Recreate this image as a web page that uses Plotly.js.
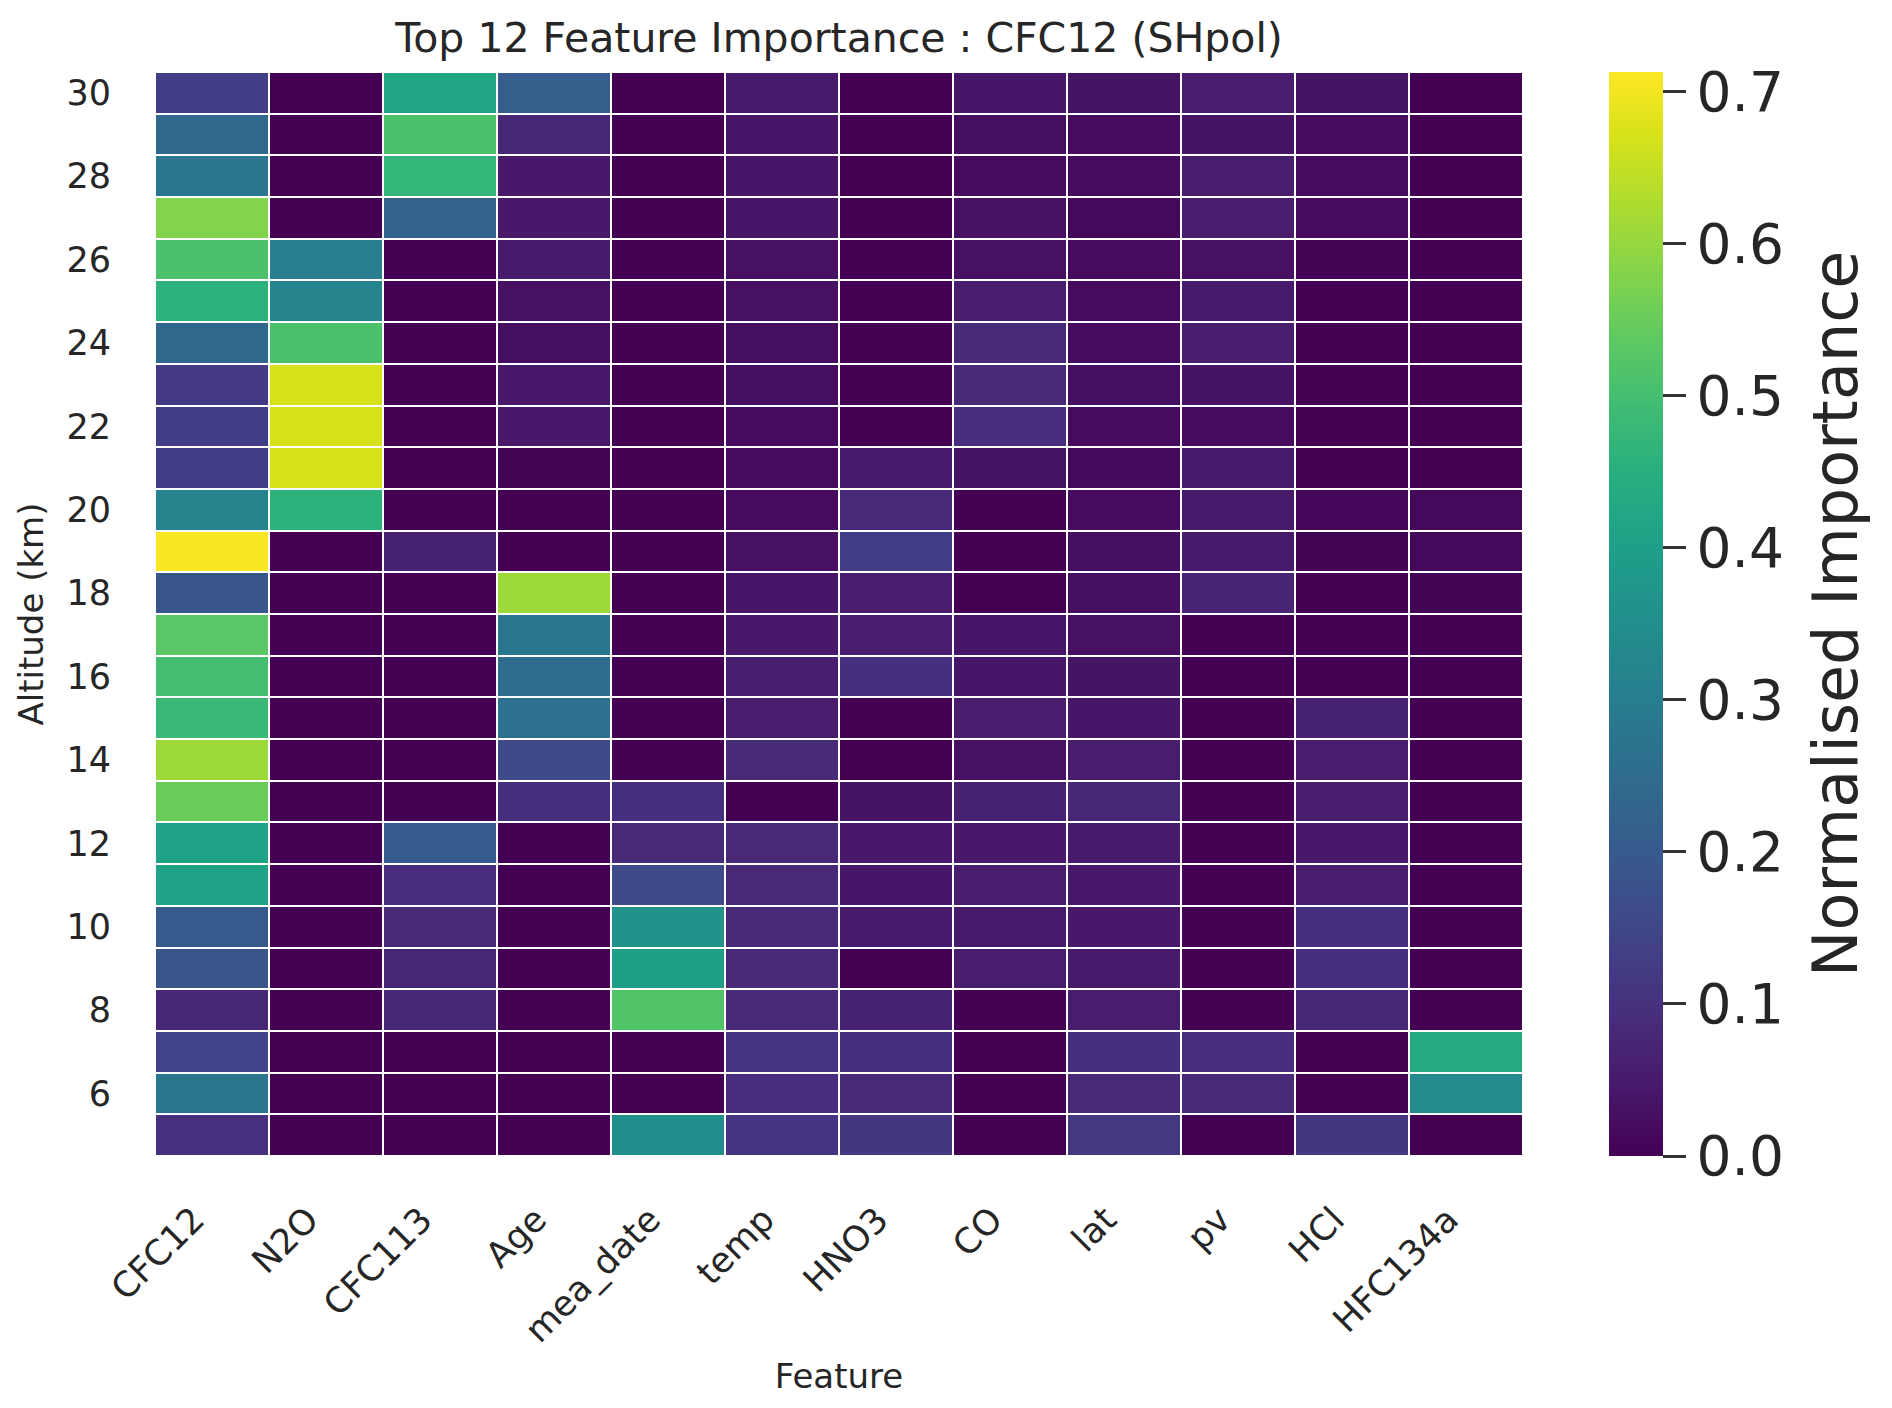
<!DOCTYPE html>
<html>
<head>
<meta charset="utf-8">
<script src="https://cdn.plot.ly/plotly-3.0.1.min.js"></script>
<style>
  html, body { margin: 0; padding: 0; background: #fff; }
  #chart { width: 1892px; height: 1408px; }
</style>
</head>
<body>
<div id="chart"></div>
<script>
// altitude rows, top to bottom (km)
var altitudes = [30, 29, 28, 27, 26, 25, 24, 23, 22, 21, 20, 19, 18, 17, 16, 15, 14, 13, 12, 11, 10, 9, 8, 7, 6, 5];
var features = ['CFC12', 'N2O', 'CFC113', 'Age', 'mea_date', 'temp', 'HNO3', 'CO', 'lat', 'pv', 'HCl', 'HFC134a'];

// normalised importance per feature, same order as altitudes
var cfc12   = [0.13, 0.24, 0.28, 0.58, 0.51, 0.46, 0.24, 0.12, 0.13, 0.13, 0.32, 0.71, 0.19, 0.53, 0.50, 0.48, 0.61, 0.55, 0.41, 0.41, 0.20, 0.19, 0.075, 0.14, 0.28, 0.10];
var n2o     = [0, 0, 0, 0, 0.30, 0.32, 0.51, 0.67, 0.67, 0.67, 0.46, 0, 0, 0, 0, 0, 0, 0, 0, 0, 0, 0, 0, 0, 0, 0];
var cfc113  = [0.42, 0.51, 0.47, 0.22, 0, 0, 0, 0, 0, 0, 0, 0.065, 0, 0, 0, 0, 0, 0, 0.20, 0.09, 0.085, 0.075, 0.075, 0, 0, 0];
var age     = [0.21, 0.075, 0.045, 0.045, 0.05, 0.03, 0.025, 0.045, 0.045, 0.005, 0, 0, 0.61, 0.28, 0.255, 0.265, 0.16, 0.095, 0, 0, 0, 0, 0, 0, 0, 0];
var meaDate = [0, 0, 0, 0, 0, 0, 0, 0, 0, 0, 0, 0, 0, 0, 0, 0, 0, 0.095, 0.085, 0.16, 0.36, 0.40, 0.52, 0, 0, 0.35];
var temp    = [0.05, 0.04, 0.04, 0.04, 0.03, 0.03, 0.025, 0.025, 0.02, 0.02, 0.02, 0.03, 0.04, 0.045, 0.06, 0.055, 0.085, 0, 0.08, 0.08, 0.08, 0.08, 0.08, 0.105, 0.09, 0.105];
var hno3    = [0, 0, 0, 0, 0, 0, 0, 0, 0, 0.05, 0.08, 0.13, 0.055, 0.055, 0.095, 0, 0, 0.035, 0.045, 0.04, 0.05, 0, 0.065, 0.095, 0.085, 0.11];
var co      = [0.04, 0.025, 0.02, 0.03, 0.03, 0.055, 0.085, 0.08, 0.09, 0.035, 0, 0, 0, 0.04, 0.04, 0.055, 0.03, 0.065, 0.045, 0.055, 0.05, 0.055, 0, 0, 0, 0];
var lat     = [0.035, 0.02, 0.02, 0.015, 0.02, 0.02, 0.02, 0.025, 0.02, 0.015, 0.02, 0.025, 0.025, 0.03, 0.035, 0.04, 0.055, 0.075, 0.05, 0.045, 0.045, 0.05, 0.055, 0.095, 0.08, 0.115];
var pv      = [0.055, 0.035, 0.055, 0.055, 0.03, 0.05, 0.055, 0.035, 0.02, 0.05, 0.05, 0.05, 0.07, 0, 0, 0, 0, 0, 0, 0, 0, 0, 0, 0.09, 0.08, 0];
var hcl     = [0.035, 0.02, 0.02, 0.02, 0.005, 0, 0, 0, 0, 0, 0.01, 0.005, 0, 0, 0, 0.065, 0.055, 0.055, 0.045, 0.055, 0.095, 0.095, 0.075, 0, 0, 0.11];
var hfc134a = [0, 0, 0, 0, 0, 0, 0, 0, 0, 0, 0.015, 0.015, 0.005, 0, 0, 0, 0, 0, 0, 0, 0, 0, 0, 0.43, 0.34, 0];

var yTicks = [6, 8, 10, 12, 14, 16, 18, 20, 22, 24, 26, 28, 30];
var cbTicks = [0, 0.1, 0.2, 0.3, 0.4, 0.5, 0.6, 0.7];

var columns = [cfc12, n2o, cfc113, age, meaDate, temp, hno3, co, lat, pv, hcl, hfc134a];
var z = altitudes.map(function (a, i) {
    return columns.map(function (col) { return col[i]; });
});

var textColor = '#262626';
var font = 'DejaVu Sans, sans-serif';

var trace = {
    type: 'heatmap',
    x: features,
    y: altitudes,
    z: z,
    colorscale: 'Viridis',
    zmin: 0,
    zmax: 0.713,
    xgap: 2,
    ygap: 2,
    hoverinfo: 'skip',
    colorbar: {
        x: 1.063,
        xanchor: 'left',
        xpad: 0,
        y: 0.5,
        len: 1,
        ypad: 0,
        thickness: 54,
        outlinewidth: 0,
        ticks: 'outside',
        ticklen: 23,
        tickwidth: 3,
        tickcolor: '#333333',
        tickvals: cbTicks,
        tickformat: '.1f',
        tickprefix: '\u2002\u2009\u2009',
        tickfont: { family: font, size: 55, color: textColor }
    }
};

var layout = {
    width: 1892,
    height: 1408,
    margin: { l: 155, r: 369, t: 72, b: 252 },
    paper_bgcolor: '#ffffff',
    plot_bgcolor: '#ffffff',
    title: {
        text: 'Top 12 Feature Importance : CFC12 (SHpol)',
        font: { family: font, size: 41, color: textColor },
        x: 0.5,
        xref: 'paper',
        y: 0.973,
        yanchor: 'middle'
    },
    xaxis: {
        type: 'category',
        tickangle: -45,
        ticks: 'outside',
        ticklen: 28,
        tickcolor: 'rgba(0,0,0,0)',
        ticklabelshift: -18,
        tickfont: { family: font, size: 35, color: textColor },
        showgrid: false,
        zeroline: false,
        title: { text: 'Feature', standoff: 14, font: { family: font, size: 34, color: textColor } }
    },
    yaxis: {
        range: [4.5, 30.5],
        tickvals: yTicks,
        ticks: 'outside',
        ticklen: 36,
        tickcolor: 'rgba(0,0,0,0)',
        tickfont: { family: font, size: 35, color: textColor },
        showgrid: false,
        zeroline: false,
        title: { text: 'Altitude (km)', standoff: 12, font: { family: font, size: 34, color: textColor } }
    },
    annotations: [{
        text: 'Normalised Importance',
        xref: 'paper',
        yref: 'paper',
        x: 1.228,
        y: 0.5,
        xanchor: 'center',
        yanchor: 'middle',
        textangle: -90,
        showarrow: false,
        font: { family: font, size: 62, color: textColor }
    }]
};

Plotly.newPlot('chart', [trace], layout, { displayModeBar: false, staticPlot: true });
</script>
</body>
</html>
